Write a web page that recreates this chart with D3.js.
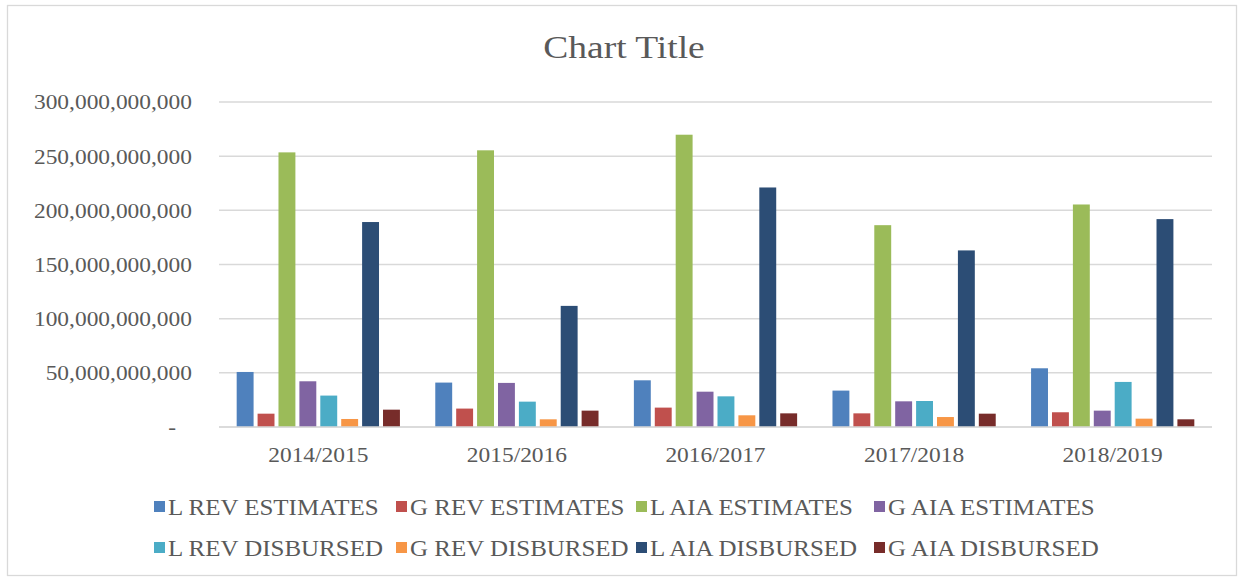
<!DOCTYPE html>
<html>
<head>
<meta charset="utf-8">
<script src="https://cdn.jsdelivr.net/npm/d3@7"></script>
<style>
  body { margin: 0; background: #fff; }
  text { font-family: "Liberation Serif", "Times New Roman", serif; fill: #595959; }
</style>
</head>
<body>
<div id="chart"></div>
<script>
// Categories (fiscal years)
const years = ["2014/2015", "2015/2016", "2016/2017", "2017/2018", "2018/2019"];

// Series names and colours
const seriesNames = [
  "L REV ESTIMATES", "G REV ESTIMATES", "L AIA ESTIMATES", "G AIA ESTIMATES",
  "L REV DISBURSED", "G REV DISBURSED", "L AIA DISBURSED", "G AIA DISBURSED"
];
const seriesColors = ["#4F81BD", "#C0504D", "#9BBB59", "#8064A2", "#4BACC6", "#F79646", "#2C4D75", "#772C2A"];

// Values per series, one per year
const lRevEstimates  = [50.8e9, 41.0e9, 43.1e9, 33.6e9, 54.2e9];
const gRevEstimates  = [12.3e9, 17.0e9, 17.9e9, 12.6e9, 13.6e9];
const lAiaEstimates  = [253.5e9, 255.4e9, 269.8e9, 186.3e9, 205.4e9];
const gAiaEstimates  = [42.2e9, 40.7e9, 32.6e9, 23.7e9, 15.1e9];
const lRevDisbursed  = [29.0e9, 23.4e9, 28.3e9, 24.0e9, 41.6e9];
const gRevDisbursed  = [7.4e9, 7.1e9, 10.8e9, 9.2e9, 7.7e9];
const lAiaDisbursed  = [189.2e9, 111.8e9, 221.1e9, 163.0e9, 191.9e9];
const gAiaDisbursed  = [16.0e9, 15.1e9, 12.6e9, 12.3e9, 7.1e9];

const yTicks = [0, 50e9, 100e9, 150e9, 200e9, 250e9, 300e9];

const seriesValues = [lRevEstimates, gRevEstimates, lAiaEstimates, gAiaEstimates,
                      lRevDisbursed, gRevDisbursed, lAiaDisbursed, gAiaDisbursed];

const width = 1244, height = 579;
const margin = { left: 219, right: 1244 - 1212, top: 102, bottom: 579 - 427 };

// the original text is drawn a little wider than the font, so stretch it
const SX = 1.09;
const LEGEND_SX = 1.11;
const TITLE_SX = 1.23;

const svg = d3.select("#chart").append("svg")
  .attr("width", width)
  .attr("height", height);

// chart border
svg.append("rect")
  .attr("x", 7.5).attr("y", 5.5)
  .attr("width", 1229).attr("height", 570)
  .attr("fill", "white")
  .attr("stroke", "#D9D9D9")
  .attr("stroke-width", 1.3);

// title
svg.append("text")
  .attr("transform", `translate(624,58) scale(${TITLE_SX},1)`)
  .attr("text-anchor", "middle")
  .attr("font-size", "30.5px")
  .text("Chart Title");

const x0 = d3.scaleBand()
  .domain(years)
  .range([margin.left, width - margin.right])
  .paddingInner(0)
  .paddingOuter(0);

// Excel gap width 150%: band = 8 bars + 1.5 bar
const barW = x0.bandwidth() / (seriesNames.length + 1.5);
const x1 = d3.scaleBand()
  .domain(d3.range(seriesNames.length))
  .range([0.75 * barW, 0.75 * barW + barW * seriesNames.length]);

const y = d3.scaleLinear()
  .domain([0, 300e9])
  .range([height - margin.bottom, margin.top]);

// gridlines
svg.append("g")
  .selectAll("line")
  .data(yTicks)
  .join("line")
  .attr("x1", margin.left).attr("x2", width - margin.right)
  .attr("y1", d => y(d)).attr("y2", d => y(d))
  .attr("stroke", "#D9D9D9")
  .attr("stroke-width", 1.5);

// y axis labels
const fmt = d3.format(",");
const yAxis = d3.axisLeft(y)
  .tickValues(yTicks)
  .tickSize(0)
  .tickPadding(27)
  .tickFormat(d => d === 0 ? "-" : fmt(d));
const yG = svg.append("g")
  .attr("transform", `translate(${margin.left},0)`)
  .call(yAxis);
yG.select(".domain").remove();
yG.selectAll("text")
  .attr("font-size", "21.5px")
  .attr("font-family", "Liberation Serif, Times New Roman, serif")
  .attr("fill", "#595959")
  .attr("x", d => (d === 0 ? -43 : -27) / SX)
  .attr("transform", `scale(${SX},1)`);

// bars
const groups = svg.append("g")
  .selectAll("g")
  .data(years)
  .join("g")
  .attr("transform", d => `translate(${x0(d)},0)`);

groups.selectAll("rect")
  .data((d, i) => seriesValues.map((vals, s) => ({ s, v: vals[i] })))
  .join("rect")
  .attr("x", d => x1(d.s) + 2)
  .attr("width", x1.bandwidth() - 4)
  .attr("y", d => y(d.v))
  .attr("height", d => y(0) - y(d.v))
  .attr("fill", d => seriesColors[d.s]);

// x axis baseline
svg.append("line")
  .attr("x1", margin.left).attr("x2", width - margin.right)
  .attr("y1", y(0)).attr("y2", y(0))
  .attr("stroke", "#D9D9D9")
  .attr("stroke-width", 1.5);

const xAxis = d3.axisBottom(x0).tickSize(0).tickPadding(20);
const xG = svg.append("g")
  .attr("transform", `translate(0,${y(0)})`)
  .call(xAxis);
xG.select(".domain").remove();
xG.selectAll("text")
  .attr("font-size", "21.5px")
  .attr("font-family", "Liberation Serif, Times New Roman, serif")
  .attr("fill", "#595959")
  .attr("transform", `scale(${SX},1)`);

// legend
const legendCols = [154, 396, 636, 874];
const legendRows = [507, 548];
const legend = svg.append("g")
  .selectAll("g")
  .data(seriesNames)
  .join("g")
  .attr("transform", (d, i) => `translate(${legendCols[i % 4]},${legendRows[Math.floor(i / 4)]})`);

legend.append("rect")
  .attr("x", 0).attr("y", -6)
  .attr("width", 11).attr("height", 11)
  .attr("fill", (d, i) => seriesColors[i]);

legend.append("text")
  .attr("x", 14 / LEGEND_SX)
  .attr("y", 0)
  .attr("dominant-baseline", "central")
  .attr("font-size", "22.5px")
  .attr("transform", `scale(${LEGEND_SX},1)`)
  .text(d => d);
</script>
</body>
</html>
